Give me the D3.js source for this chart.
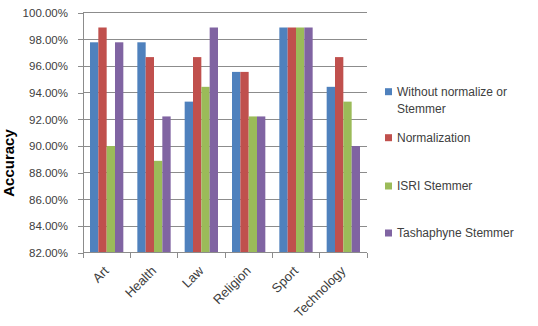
<!DOCTYPE html>
<html><head><meta charset="utf-8">
<script src="https://cdn.jsdelivr.net/npm/d3@7"></script>
<style>body{margin:0;background:#fff}svg{display:block}</style>
</head><body>
<svg id="c" width="538" height="326"></svg>
<script>
const categories = ["Art","Health","Law","Religion","Sport","Technology"];
const seriesNames = ["Without normalize or Stemmer","Normalization","ISRI Stemmer","Tashaphyne Stemmer"];
const withoutNorm = [97.78, 97.78, 93.33, 95.56, 98.89, 94.44];
const normalization = [98.89, 96.67, 96.67, 95.56, 98.89, 96.67];
const isri = [90.00, 88.89, 94.44, 92.22, 98.89, 93.33];
const tashaphyne = [97.78, 92.22, 98.89, 92.22, 98.89, 90.00];
const yTicks = [82,84,86,88,90,92,94,96,98,100];
const colors = ["#4F81BD","#C0504D","#9BBB59","#8064A2"];
const series = [withoutNorm, normalization, isri, tashaphyne];

const svg = d3.select("#c");
const L = 83, R = 367, T = 12.7, B = 252.7;
const x = d3.scaleBand().domain(categories).range([L,R]).paddingInner(0.296).paddingOuter(0.148);
const xs = d3.scaleBand().domain(d3.range(series.length)).range([0,x.bandwidth()]);
const y = d3.scaleLinear().domain([82,100]).range([B,T]);
const font = "'Liberation Sans', Arial, sans-serif";

// gridlines
svg.append("g").selectAll("line").data(yTicks.slice(1)).join("line")
  .attr("x1",L).attr("x2",R).attr("y1",d=>y(d)).attr("y2",d=>y(d))
  .attr("stroke","#8c8c8c").attr("stroke-width",1).attr("shape-rendering","crispEdges");

// bars
series.forEach((s,i)=>{
  svg.append("g").selectAll("rect").data(s).join("rect")
    .attr("x",(d,j)=>x(categories[j])+xs(i))
    .attr("width",xs.bandwidth())
    .attr("y",d=>y(d)).attr("height",d=>B-y(d))
    .attr("fill",colors[i]);
});

// y axis
const ya = svg.append("g").attr("transform",`translate(${L},0)`)
  .call(d3.axisLeft(y).tickValues(yTicks).tickSize(5).tickPadding(10).tickFormat(d=>d.toFixed(2)+"%"));
ya.select(".domain").attr("stroke","#8c8c8c").attr("shape-rendering","crispEdges");
ya.selectAll(".tick line").attr("stroke","#8c8c8c").attr("shape-rendering","crispEdges");
ya.selectAll("text").attr("font-family",font).attr("font-size","11.5px").attr("fill","#404040");

// x axis
const step = x.step();
const boundaries = d3.range(categories.length+1).map(i=>L+i*step);
svg.append("line").attr("x1",L).attr("x2",R).attr("y1",B).attr("y2",B)
  .attr("stroke","#8c8c8c").attr("shape-rendering","crispEdges");
svg.append("g").selectAll("line").data(boundaries).join("line")
  .attr("x1",d=>d).attr("x2",d=>d).attr("y1",B).attr("y2",B+5)
  .attr("stroke","#8c8c8c").attr("shape-rendering","crispEdges");
svg.append("g").selectAll("text").data(categories).join("text")
  .attr("transform",d=>`translate(${x(d)+x.bandwidth()/2+3},${B+19}) rotate(-45)`)
  .attr("text-anchor","end").attr("font-family",font).attr("font-size","13px").attr("fill","#404040")
  .text(d=>d);

// y label
svg.append("text").attr("transform","translate(14,163) rotate(-90)")
  .attr("text-anchor","middle").attr("font-family",font).attr("font-size","15px")
  .attr("font-weight","bold").attr("fill","#000").text("Accuracy");

// legend
const legY = [91.7, 137.7, 186, 233];
const lg = svg.append("g").selectAll("g").data(seriesNames).join("g")
  .attr("transform",(d,i)=>`translate(385,${legY[i]})`);
lg.append("rect").attr("x",0).attr("y",-3.5).attr("width",7).attr("height",7).attr("fill",(d,i)=>colors[i]);
lg.each(function(d){
  const g = d3.select(this);
  const t = g.append("text").attr("x",12).attr("y",4).attr("font-family",font).attr("font-size","12px").attr("fill","#404040");
  if(d==="Without normalize or Stemmer"){
    t.append("tspan").attr("x",12).attr("y",4).text("Without normalize or");
    t.append("tspan").attr("x",12).attr("y",21).text("Stemmer");
  } else t.text(d);
});
</script>
</body></html>
